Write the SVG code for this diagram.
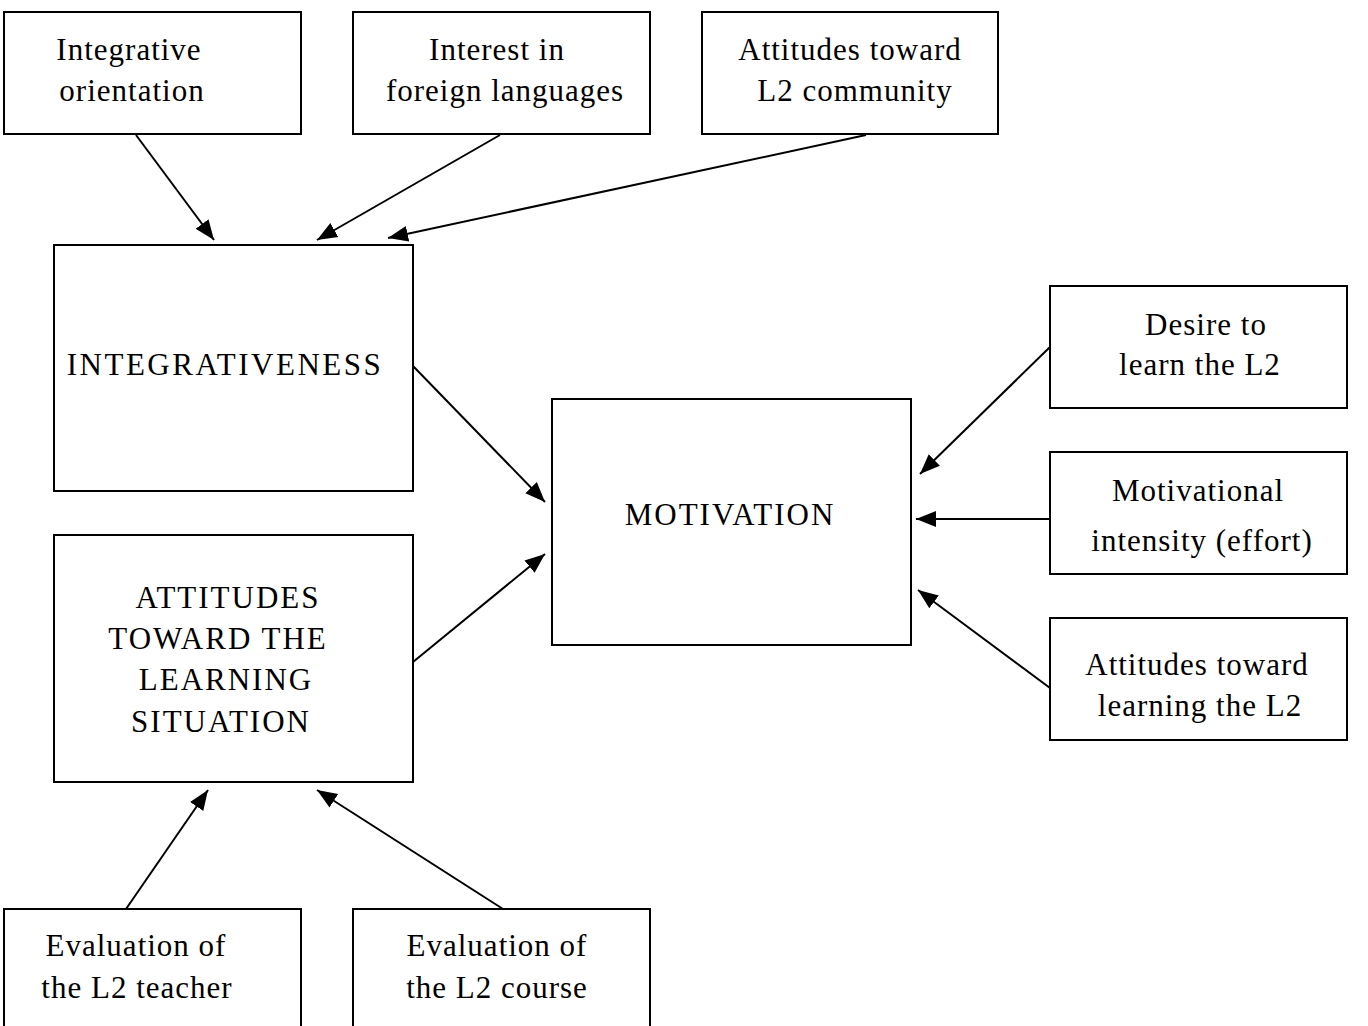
<svg xmlns="http://www.w3.org/2000/svg" width="1368" height="1026" viewBox="0 0 1368 1026">
<style>
rect{fill:#fff;stroke:#000;stroke-width:2}
text{font-family:"Liberation Serif",serif;font-size:31px;letter-spacing:1px;text-anchor:middle;fill:#000}
.c line{stroke:#000;stroke-width:2;marker-end:url(#b)}
</style>
<defs>
<marker id="b" viewBox="0 0 20 20" refX="20" refY="10" markerWidth="20" markerHeight="20" markerUnits="userSpaceOnUse" orient="auto"><path d="M0,2L20,10L0,18z"/></marker></defs>
<rect width="1368" height="1026" style="stroke:none"/>
<g id="n1"><rect x="4" y="12" width="297" height="122"/><text x="129" y="60">Integrative</text><text x="132" y="101">orientation</text></g>
<g id="n2"><rect x="353" y="12" width="297" height="122"/><text x="497" y="60">Interest in</text><text x="505" y="101">foreign languages</text></g>
<g id="n3"><rect x="702" y="12" width="296" height="122"/><text x="850" y="60">Attitudes toward</text><text x="855" y="101">L2 community</text></g>
<g id="n4"><rect x="54" y="245" width="359" height="246"/><text x="225" y="375" style="letter-spacing:2.5px">INTEGRATIVENESS</text></g>
<g id="n5" style="letter-spacing:2px"><rect x="54" y="535" width="359" height="247"/><text x="228" y="608" style="letter-spacing:2px">ATTITUDES</text><text x="218" y="649" style="letter-spacing:2px">TOWARD THE</text><text x="226" y="690" style="letter-spacing:2px">LEARNING</text><text x="221" y="732" style="letter-spacing:2px">SITUATION</text></g>
<g id="n6"><rect x="552" y="399" width="359" height="246"/><text x="730" y="525" style="letter-spacing:2px">MOTIVATION</text></g>
<g id="n7"><rect x="1050" y="286" width="297" height="122"/><text x="1206" y="335">Desire to</text><text x="1200" y="375">learn the L2</text></g>
<g id="n8"><rect x="1050" y="452" width="297" height="122"/><text x="1198" y="501">Motivational</text><text x="1202" y="551">intensity (effort)</text></g>
<g id="n9"><rect x="1050" y="618" width="297" height="122"/><text x="1197" y="675">Attitudes toward</text><text x="1200" y="716">learning the L2</text></g>
<g id="n10"><rect x="4" y="909" width="297" height="130"/><text x="136" y="956">Evaluation of</text><text x="137" y="998">the L2 teacher</text></g>
<g id="n11"><rect x="353" y="909" width="297" height="130"/><text x="497" y="956">Evaluation of</text><text x="497" y="998">the L2 course</text></g>
<g class="c" id="connectors">
<line x1="136" y1="135" x2="214" y2="240"/>
<line x1="500" y1="135" x2="317" y2="240"/>
<line x1="866" y1="135" x2="388" y2="238"/>
<line x1="413" y1="366" x2="545" y2="502"/>
<line x1="413" y1="662" x2="545" y2="554"/>
<line x1="1050" y1="347" x2="920" y2="474"/>
<line x1="1050" y1="519" x2="916" y2="519"/>
<line x1="1050" y1="688" x2="918" y2="590"/>
<line x1="126" y1="909" x2="208" y2="790"/>
<line x1="503" y1="909" x2="317" y2="790"/>
</g>
</svg>
